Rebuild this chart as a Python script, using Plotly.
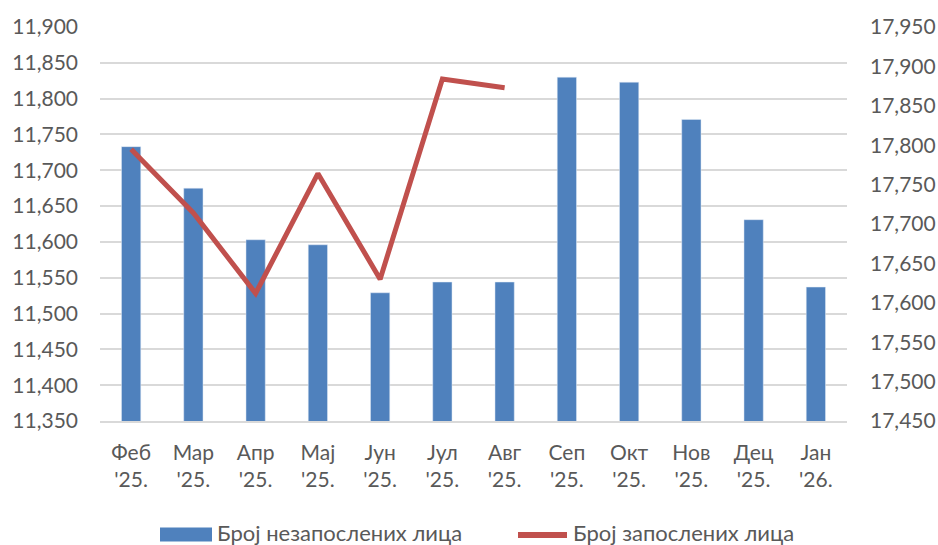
import plotly.graph_objects as go

months = ["Феб<br>'25.", "Мар<br>'25.", "Апр<br>'25.", "Мај<br>'25.", "Јун<br>'25.", "Јул<br>'25.",
          "Авг<br>'25.", "Сеп<br>'25.", "Окт<br>'25.", "Нов<br>'25.", "Дец<br>'25.", "Јан<br>'26."]
unemployed = [11733, 11675, 11603, 11596, 11529, 11544, 11544, 11830, 11823, 11771, 11631, 11537]
employed = [17795, 17714, 17612, 17764, 17630, 17884, 17873, None, None, None, None, None]

name_bar = "Број незапослених лица"
name_line = "Број запослених лица"
bar_color = "#4F81BD"
line_color = "#C0504D"

font_family = "Lato, 'Open Sans', sans-serif"
txt = "#595959"

# plot area in pixels: x 100..847, y 27..421
L, R, T, B = 100, 847, 27, 421
def px(x):
    return (x - L) / (R - L)
def py(y):
    return (B - y) / (B - T)

fig = go.Figure()
fig.add_trace(go.Bar(x=months, y=unemployed, name=name_bar, marker_color=bar_color,
                     width=0.31, yaxis="y", showlegend=False))
fig.add_trace(go.Scatter(x=months, y=employed, name=name_line, mode="lines",
                         line=dict(color=line_color, width=5), yaxis="y2",
                         connectgaps=False, showlegend=False))

# custom legend (swatches + labels)
fig.add_shape(type="rect", xref="paper", yref="paper",
              x0=px(160), x1=px(212), y0=py(541.5), y1=py(527.5),
              fillcolor=bar_color, line=dict(width=0))
fig.add_shape(type="line", xref="paper", yref="paper",
              x0=px(518), x1=px(567), y0=py(535), y1=py(535),
              line=dict(color=line_color, width=6))
fig.add_annotation(text=name_bar, xref="paper", yref="paper", x=px(216), y=py(532),
                   xanchor="left", yanchor="middle", showarrow=False, borderpad=0,
                   font=dict(size=22, color=txt, family=font_family))
fig.add_annotation(text=name_line, xref="paper", yref="paper", x=px(572), y=py(532),
                   xanchor="left", yanchor="middle", showarrow=False, borderpad=0,
                   font=dict(size=22, color=txt, family=font_family))

fig.update_layout(
    width=938, height=545,
    margin=dict(l=L, r=938 - R, t=T, b=545 - B, autoexpand=False),
    paper_bgcolor="white", plot_bgcolor="white",
    font=dict(family=font_family, size=21, color=txt),
    showlegend=False,
    xaxis=dict(showgrid=False, showline=True, linecolor="#D9D9D9", linewidth=1.5,
               ticks="", tickfont=dict(size=21, color=txt), automargin=False,
               ticklabelstandoff=12),
    yaxis=dict(range=[11350, 11900], dtick=50, tickformat=",", showgrid=True,
               gridcolor="#D9D9D9", gridwidth=1.5, zeroline=False, ticks="",
               tickfont=dict(size=21, color=txt), automargin=False, ticklabelstandoff=21),
    yaxis2=dict(range=[17450, 17950], dtick=50, tickformat=",", overlaying="y",
                side="right", showgrid=False, zeroline=False, ticks="",
                tickfont=dict(size=21, color=txt), automargin=False, ticklabelstandoff=22),
)

fig.write_html("out.html", config={"displayModeBar": False},
               post_script="document.body.style.margin='0';document.body.style.padding='0';")
